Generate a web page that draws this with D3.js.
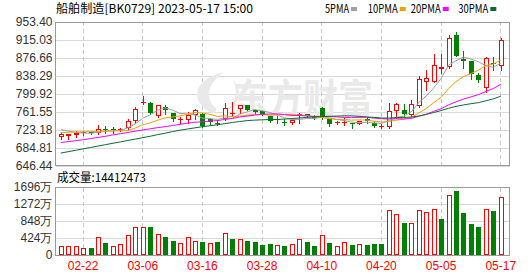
<!DOCTYPE html>
<html><head><meta charset="utf-8">
<script src="https://cdn.jsdelivr.net/npm/d3@7"></script>
<style>
html,body{margin:0;padding:0;background:#fff;}
svg{display:block;}
</style></head>
<body><svg id="c" width="530" height="276"></svg>
<script>
const dates = ["02-17","02-20","02-21","02-22","02-23","02-24","02-27","02-28","03-01","03-02","03-03","03-06","03-07","03-08","03-09","03-10","03-13","03-14","03-15","03-16","03-17","03-20","03-21","03-22","03-23","03-24","03-27","03-28","03-29","03-30","03-31","04-03","04-04","04-06","04-07","04-10","04-11","04-12","04-13","04-14","04-17","04-18","04-19","04-20","04-21","04-24","04-25","04-26","04-27","04-28","05-04","05-05","05-08","05-09","05-10","05-11","05-12","05-15","05-16","05-17"];
const openP  = [708,709,711.5,715,718,715,723.6,725,722.8,727,741.3,779.7,781,752,771.2,759.1,742.9,743.6,753.5,757,745,737.9,746.4,757.1,766.3,775.6,764.2,762,752.1,744.3,740,737.9,753.5,755.7,750.5,769.9,745,736.5,737,736.5,735.8,746,737.9,728.5,728.7,762.8,764.3,754.3,773.5,825.4,825.4,853.1,856.7,926.4,875.2,869.5,839.6,811.2,866,860.2];
const highP  = [716,714,721,721,721,734,730.7,729,727,745,772,794.7,782,775,776.9,759.5,750,760.7,767.8,758,748.6,743.6,781,782,776.3,775.6,766.3,762,752.1,752.1,746.4,742.9,759.2,755.7,753.5,771,746,741.4,748.6,736.5,741.4,748.6,741,735.8,780.6,780.6,778.5,785.6,837.5,851.7,885.1,885.1,926.4,932.1,890.8,869.5,844.6,879.5,878.7,919.3];
const lowP   = [704,704,708,711,713,713,716.5,716.5,720,725,738,777,757,750.6,757,741,737.9,737.9,746.4,729,735.8,733.6,743.6,752.1,759.2,764.9,755.7,753.5,739.3,737.9,732.9,735.8,737.9,748.6,745,746.4,730.8,734.4,732.9,727.2,734.4,737.9,729.4,727.2,727.2,748.6,752.2,752.2,771.4,806.9,825.4,844.6,855.3,880.2,855.3,832.5,825.4,804,851.7,850.3];
const closeP = [713,713,716.5,718,715.7,725,721.4,722,725,741.3,767.7,781.9,757.7,774.8,766.2,744.9,745,753.5,764.2,732,739.3,735.8,769.9,759.2,776.3,764.9,761.4,756.4,741.5,746.4,737.9,742.9,755.7,752.1,747,748.6,735.8,738.5,739,735,741.4,741,731.2,730.5,762.8,777,755.7,777,832.5,833,862.4,858.1,919.3,880.2,870.9,842.5,829,876.6,863.8,915.7];
const volume = [223,223,223,166,182,439,306,223,273,496,686,686,695,521,455,356,289,439,347,322,289,322,537,397,389,347,322,248,273,240,223,273,389,322,223,488,306,223,322,248,265,248,273,273,1116,1017,801,794,1116,1066,1141,893,1488,1595,1050,777,703,1157,1091,1441.2473];
const ma5  = [723.5,720,717.5,716,715.2,717.6,719.3,720.4,721.8,726.9,735.5,747.6,754.7,764.7,769.7,765.1,757.7,756.9,754.8,747.9,746.8,745,748.2,747.2,756.1,761.2,766.3,763.6,760.1,754.1,748.7,745,744.9,747,747.2,749.5,748.4,745,742.4,739.4,737.9,739,737.5,736.5,742.3,749.4,751.9,761.1,781,795,812,832.6,861.1,870.6,878.3,874.2,868.4,859.8,856.6,865.5];
const ma10 = [717,717.5,718,718.5,719,719.5,720,720.5,721,721.1,726.6,733.5,737.6,743.3,748.3,750.3,752.7,755.8,759.7,758.8,756,751.3,752.6,751,752,754,755.7,755.9,753.7,755.1,755,755.7,754.3,753.6,750.6,749.3,746.7,744.9,744.7,743.6,743.9,743.7,741.3,739.4,740.6,743.5,745.5,749.3,758.7,768.4,780.5,792.2,811,825.8,836.6,843.1,850.4,860.4,863.5,871.9];
const ma20 = [695.5,697.5,699.5,701.5,704,706.5,709,712,714.5,717,720,722.5,725,727.5,729.5,732,734.5,737,739,739.9,741.3,742.4,745.1,747.1,750.2,752.2,754.2,755.9,756.7,757,755.5,753.5,753.4,752.3,751.5,751.7,751.2,750.4,749.2,749.3,749.4,749.7,747.8,746.5,745.8,746.4,746.1,747.1,751.7,756,762.2,768,776.2,782.6,788.6,793.3,798,804.9,811.1,820.1];
const ma30 = [673,676,679,682,685,688,691,694,697,700,703,706,709,712.5,715.5,719,722,724.5,727,729.5,731.5,733.5,736,738.5,740.5,742.5,743.5,744.2,744.7,745,745.8,746.8,748.1,749.3,750.4,751.2,751.7,752.2,752.7,752.5,751.6,750.3,749.4,748,747.9,748.9,749.3,750.1,752.3,755.7,759.8,763.9,768.9,772.9,776,778.6,780.9,784.9,789,794.6];
const priceTicks = [953.40,915.03,876.66,838.29,799.92,761.55,723.18,684.81,646.44];
const volTicks = [0,424,848,1272,1696];
const dateTicks = ["02-22","03-06","03-16","03-28","04-10","04-20","05-05","05-17"];
const maNames = ["5PMA","10PMA","20PMA","30PMA"];

const RED="#ff0000", GREEN="#008000";
const maColors = ["#a0a0a0","#f0a000","#ff00ff","#0b6b32"];
const L=55.5, R=509.5, mainTop=22, mainBot=165.5, volTop=187, volBot=255;
const svg = d3.select('#c');
const x = d3.scaleBand().domain(dates).range([57,504.5]);
const cxOf = d => Math.round(x(d) + x.bandwidth()/2);
const y = d3.scaleLinear().domain([646.44,953.40]).range([mainBot, mainTop]);
const yv = d3.scaleLinear().domain([0,1696]).range([volBot, volTop]);
const font = "'Liberation Sans', Arial, sans-serif";
const cjk = "'Noto Sans CJK SC', sans-serif";

function hgrid(scale, ticks){
  const g = svg.append('g').attr('transform',`translate(${L},0)`)
    .call(d3.axisLeft(scale).tickValues(ticks).tickSize(-(R-L)).tickFormat(''));
  g.select('.domain').remove();
  g.selectAll('line').attr('stroke','#d9d9d9').attr('shape-rendering','crispEdges');
}
hgrid(y, priceTicks);
hgrid(yv, volTicks);

function vgrid(top, bot){
  const g = svg.append('g').attr('transform',`translate(0,${bot})`)
    .call(d3.axisBottom(x).tickValues(dateTicks).tickSize(-(bot-top)).tickFormat(''));
  g.select('.domain').remove();
  g.selectAll('line').attr('stroke','#c8c8c8').attr('stroke-dasharray','4,3').attr('shape-rendering','crispEdges');
}
vgrid(mainTop, mainBot);
vgrid(volTop, volBot);

// watermark
const wm = svg.append('g').attr('fill','#e9e9e9');
wm.append('path').attr('d','M214,114 C190,104 190,80 224,72 C207,84 204,99 217,109 Z M222,113 C237,104 239,89 232,78 C244,91 240,107 222,113 Z');
wm.append('text').attr('x',233).attr('y',113).attr('font-family',cjk).attr('font-weight','bold')
  .attr('font-size',40).attr('textLength',140).attr('lengthAdjust','spacingAndGlyphs').text('东方财富');

const fr = svg.append('g').attr('fill','none').attr('stroke','#9a9a9a').attr('shape-rendering','crispEdges');
fr.append('rect').attr('x',L).attr('y',mainTop).attr('width',R-L).attr('height',mainBot-mainTop);
fr.append('rect').attr('x',L).attr('y',volTop).attr('width',R-L).attr('height',volBot-volTop);

const pa = svg.append('g').attr('transform',`translate(${L},0)`)
  .call(d3.axisLeft(y).tickValues(priceTicks).tickFormat(d3.format('.2f')).tickSize(0).tickPadding(3));
pa.select('.domain').remove();
pa.selectAll('text').attr('font-family',font).attr('font-size',12).attr('fill','#333');
const va = svg.append('g').attr('transform',`translate(${L},0)`)
  .call(d3.axisLeft(yv).tickValues(volTicks).tickFormat(d => d===0 ? '0' : d+'万').tickSize(0).tickPadding(3));
va.select('.domain').remove();
va.selectAll('text').attr('font-family',font).attr('font-size',12).attr('fill','#333');
const da = svg.append('g').attr('transform',`translate(0,${volBot})`)
  .call(d3.axisBottom(x).tickValues(dateTicks).tickSize(0).tickPadding(6));
da.select('.domain').remove();
da.selectAll('text').attr('font-family',font).attr('font-size',12).attr('fill',RED);

const cd = dates.map((d,i)=>({d,o:openP[i],h:highP[i],l:lowP[i],c:closeP[i],v:volume[i],
  up: closeP[i] >= openP[i], vup: i===0 ? closeP[i]>=openP[i] : closeP[i] >= closeP[i-1]}));
const cg = svg.append('g').attr('shape-rendering','crispEdges');
cd.forEach(k=>{
  const cx = cxOf(k.d);
  const col = k.up ? RED : GREEN;
  cg.append('line').attr('x1',cx+0.5).attr('x2',cx+0.5)
    .attr('y1',Math.round(y(k.h))).attr('y2',Math.round(y(k.l))+1).attr('stroke',col);
  const t = Math.round(y(Math.max(k.o,k.c))), b = Math.round(y(Math.min(k.o,k.c)));
  if (b - t < 2) {
    cg.append('rect').attr('x',cx-2).attr('y',t).attr('width',5).attr('height',Math.max(b-t,1)).attr('fill',col);
  } else if (k.up) {
    cg.append('rect').attr('x',cx-1.5).attr('y',t+0.5).attr('width',4).attr('height',b-t-1)
      .attr('fill','#fff').attr('stroke',col);
  } else {
    cg.append('rect').attr('x',cx-2).attr('y',t).attr('width',5).attr('height',b-t).attr('fill',col);
  }
  const vt = Math.round(yv(k.v));
  if (k.vup) {
    cg.append('rect').attr('x',cx-1.5).attr('y',vt+0.5).attr('width',4).attr('height',volBot-vt-1)
      .attr('fill','#fff').attr('stroke',RED);
  } else {
    cg.append('rect').attr('x',cx-2).attr('y',vt).attr('width',5).attr('height',volBot-vt).attr('fill',GREEN);
  }
});

[ma5,ma10,ma20,ma30].forEach((arr,j)=>{
  const line = d3.line().x((v,i)=>x(dates[i])+x.bandwidth()/2).y(v=>y(v));
  svg.append('path').attr('d',line(arr)).attr('fill','none').attr('stroke',maColors[j]).attr('stroke-width',1);
});

svg.append('text').attr('x',56).attr('y',12.5).attr('font-family',cjk).attr('font-size',12).attr('fill','#000')
  .attr('textLength',197).attr('lengthAdjust','spacingAndGlyphs').text('船舶制造[BK0729] 2023-05-17 15:00');
const legX = [325,367.7,410.7,458.3];
maNames.forEach((n,j)=>{
  const w = n.length*6;
  svg.append('text').attr('x',legX[j]).attr('y',12.5).attr('font-family',cjk).attr('font-size',12).attr('fill','#000')
    .attr('textLength',w).attr('lengthAdjust','spacingAndGlyphs').text(n);
  svg.append('rect').attr('x',legX[j]+w+2).attr('y',7).attr('width',6).attr('height',4).attr('fill',maColors[j]);
});
svg.append('text').attr('x',57).attr('y',181.5).attr('font-family',cjk).attr('font-size',12).attr('fill','#000')
  .attr('textLength',89).attr('lengthAdjust','spacingAndGlyphs').text('成交量:'+ Math.round(volume[volume.length-1]*10000));
</script>
</body></html>
